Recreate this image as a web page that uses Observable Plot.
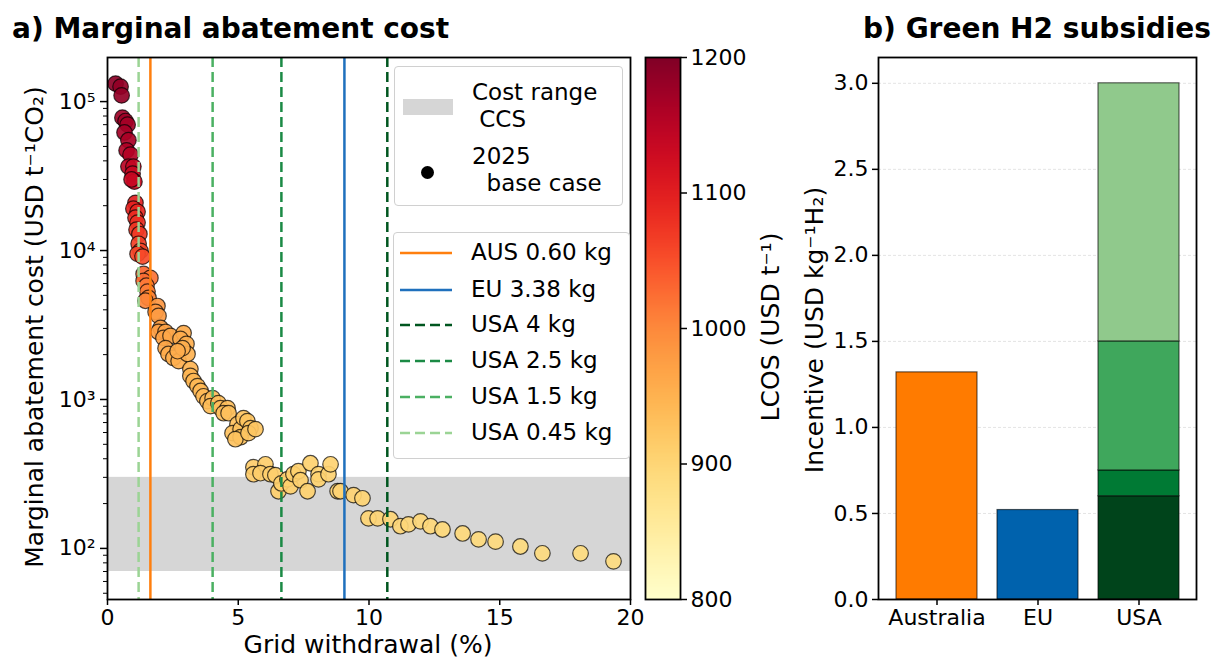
<!DOCTYPE html>
<html><head><meta charset="utf-8">
<script src="https://cdn.jsdelivr.net/npm/d3@7"></script>
<script src="https://cdn.jsdelivr.net/npm/@observablehq/plot@0.6"></script>
<style>
body{margin:0;background:#fff;font-family:"DejaVu Sans",sans-serif;color:#000}
#wrap{position:relative;width:1220px;height:660px;overflow:hidden}
.title{position:absolute;font-weight:bold;font-size:28px;line-height:1;white-space:nowrap}
.lab{position:absolute;font-size:25px;white-space:nowrap;line-height:1}
.lg{position:absolute;border:1px solid #d0d0d0;border-radius:4px;background:rgba(255,255,255,0.85)}
.lt{position:absolute;font-size:23px;line-height:27px;white-space:pre}
</style></head>
<body><div id="wrap"></div>
<script>
// ---------------- data: panel a ----------------
const gridWithdrawal = [
0.31,0.50,0.54,0.57,0.69,0.77,0.65,0.80,0.73,0.88,
0.80,0.99,0.96,1.03,0.92,1.07,0.99,1.15,1.07,1.15,
1.11,1.22,1.19,1.26,1.15,1.34,1.38,1.64,1.38,1.49,
1.53,1.57,1.45,1.91,1.84,1.95,2.03,1.95,2.22,2.14,
2.41,2.91,2.79,3.02,2.22,2.33,2.52,2.72,3.06,2.87,
2.68,3.17,3.17,3.29,3.44,3.56,3.67,3.82,4.02,3.94,
4.24,4.32,4.59,4.44,4.63,4.97,4.78,5.09,5.20,5.35,
5.47,5.09,4.89,5.39,5.66,5.58,5.58,6.04,5.85,6.23,
6.42,6.54,6.65,6.88,7.00,7.11,7.30,7.38,7.65,7.76,
8.07,8.07,8.45,8.53,8.80,8.91,9.41,9.75,9.98,10.33,
10.82,11.20,11.51,11.97,12.35,12.81,13.58,14.19,14.84,15.79,
16.63,18.09,19.35];
const abatementCost = [
132000,126000,110000,78000,74000,70000,62000,55000,47000,44000,
36600,36600,32800,29000,30000,20900,19100,18200,16600,15400,
13800,12900,11100,9950,9500,9100,6960,6550,6250,5800,
5300,4800,4600,4240,3870,3640,3020,2840,2840,2590,
2670,2790,2550,2360,2210,2020,1900,1810,2020,2210,
2110,1600,1440,1330,1230,1140,1050,975,1020,902,
945,875,875,809,809,683,594,632,750,715,
642,558,541,594,632,351,315,367,320,315,
310,242,273,291,261,315,330,287,242,373,
315,291,315,367,242,242,228,217,159,159,
157,141,145,152,141,134,126,115,111,103,
92.7,92.7,81.9];
const lcos = [
1190,1185,1185,1175,1175,1170,1170,1165,1160,1155,
1150,1140,1135,1130,1135,1100,1095,1090,1085,1080,
1075,1070,1065,1060,1060,1055,1030,1020,1025,1015,
1010,1005,1005,985,985,980,975,975,970,970,
965,960,960,955,965,960,955,955,950,955,
958,948,946,945,943,942,940,938,937,936,
935,934,933,933,932,930,930,928,928,927,
926,928,929,926,925,915,915,913,914,912,
912,911,911,910,910,910,909,909,908,908,
907,907,906,906,905,905,904,903,902,901,
900,899,898,897,896,895,894,893,892,891,
890,889,888];
const ccsRange = [70, 300];
const lineLabels = ["AUS 0.60 kg","EU 3.38 kg","USA 4 kg","USA 2.5 kg","USA 1.5 kg","USA 0.45 kg"];
const lineX = [1.64, 9.06, 10.7, 6.65, 4.02, 1.19];
const xTicksA = [0,5,10,15,20];
const yTicksA = [100,1000,10000,100000];
const lcosTicks = [800,900,1000,1100,1200];

// ---------------- data: panel b ----------------
const countries = ["Australia","EU","USA"];
const barCountry = ["Australia","EU","USA","USA","USA","USA"];
const barLow  = [0,0,0,0.6,0.75,1.5];
const barHigh = [1.32,0.52,0.6,0.75,1.5,3.0];
const yTicksB = [0,0.5,1,1.5,2,2.5,3];

// ---------------- styles ----------------
const lineStyle = {
  "AUS 0.60 kg": {color:"#ff7f0e", dash:null},
  "EU 3.38 kg":  {color:"#1f70bd", dash:null},
  "USA 4 kg":    {color:"#00561f", dash:"10,5"},
  "USA 2.5 kg":  {color:"#1b8a45", dash:"10,5"},
  "USA 1.5 kg":  {color:"#4bb062", dash:"10,5"},
  "USA 0.45 kg": {color:"#9bd495", dash:"10,5"}
};
const barColors = ["#ff7b00","#0062ad","#00441b","#007a34","#3fa75c","#90c98c"];
const font = "DejaVu Sans, sans-serif";
const tickFont = "22px";
const wrap = document.getElementById("wrap");
function place(el, left, top){ el.style.position="absolute"; el.style.left=left+"px"; el.style.top=top+"px"; wrap.appendChild(el); return el; }
function div(cls, text, left, top, extra){ const d=document.createElement("div"); d.className=cls; d.textContent=text; d.style.left=left+"px"; d.style.top=top+"px"; if(extra) Object.assign(d.style, extra); wrap.appendChild(d); return d; }
const sup = {"0":"⁰","1":"¹","2":"²","3":"³","4":"⁴","5":"⁵","6":"⁶","7":"⁷","8":"⁸","9":"⁹"};

// ---------------- panel a ----------------
const pts = gridWithdrawal.map((x,i)=>({x, y:abatementCost[i], c:lcos[i]}));
const minorTicks = [];
for (let e=1;e<=5;e++) for (let k=2;k<=9;k++){ const v=k*10**e; if(v>45.4 && v<197700) minorTicks.push(v); }
const colorOpts = {type:"linear", scheme:"YlOrRd", domain:[800,1200]};
const panelA = Plot.plot({
  width:640, height:660,
  marginLeft:107, marginRight:10, marginTop:57, marginBottom:61,
  style:{fontFamily:font, fontSize:tickFont, background:"transparent", color:"#000", overflow:"visible"},
  x:{domain:[0,20]},
  y:{type:"log", domain:[45.4,197700]},
  color:colorOpts,
  marks:[
    Plot.rect([ccsRange], {x1:()=>0, x2:()=>20, y1:d=>d[0], y2:d=>d[1], fill:"#d6d6d6"}),
    Plot.dot(pts, {x:"x", y:"y", fill:"c", r:7.8, stroke:"#000", strokeOpacity:0.7, strokeWidth:1.2, fillOpacity:0.92}),
    ...lineLabels.map((l,i)=>Plot.ruleX([lineX[i]], {stroke:lineStyle[l].color, strokeWidth:2.5, strokeDasharray:lineStyle[l].dash})),
    Plot.axisX({ticks:xTicksA, tickFormat:d=>String(d), tickSize:6, tickPadding:4, strokeWidth:1.5, label:null}),
    Plot.axisY({ticks:yTicksA, tickFormat:d=>"10"+String(Math.round(Math.log10(d))).split("").map(c=>sup[c]).join(""), tickSize:7, tickPadding:5, strokeWidth:1.5, label:null}),
    Plot.axisY({ticks:minorTicks, tickFormat:()=>"", tickSize:4, strokeWidth:1, label:null}),
    Plot.frame({stroke:"#000", strokeWidth:1.8})
  ]
});
place(panelA, 0, 0);

// colorbar
const cbar = Plot.plot({
  width:180, height:660,
  marginLeft:25, marginRight:120, marginTop:57, marginBottom:61,
  style:{fontFamily:font, fontSize:tickFont, background:"transparent", color:"#000", overflow:"visible"},
  x:{domain:[0,1], axis:null},
  y:{domain:[800,1200], axis:null},
  color:colorOpts,
  marks:[
    Plot.raster({x1:0, x2:1, y1:800, y2:1200, width:1, height:200, fill:(x,y)=>y, imageRendering:"auto"}),
    Plot.axisY({anchor:"right", ticks:lcosTicks, tickFormat:d=>String(d), tickSize:6, tickPadding:4, strokeWidth:1.5, label:null}),
    Plot.frame({stroke:"#000", strokeWidth:1.8})
  ]
});
place(cbar, 620, 0);

// ---------------- panel b ----------------
const bars = barCountry.map((c,i)=>({country:c, lo:barLow[i], hi:barHigh[i], fill:barColors[i]}));
const panelB = Plot.plot({
  width:430, height:660,
  marginLeft:88, marginRight:24, marginTop:57, marginBottom:61,
  style:{fontFamily:font, fontSize:tickFont, background:"transparent", color:"#000", overflow:"visible"},
  x:{domain:countries, paddingInner:0.2, paddingOuter:0.16},
  y:{domain:[0,3.15]},
  color:{type:"identity"},
  marks:[
    Plot.gridY(yTicksB.slice(1), {stroke:"#e4e4e4", strokeOpacity:1, strokeWidth:1, strokeDasharray:"3,2"}),
    Plot.barY(bars, {x:"country", y1:"lo", y2:"hi", fill:"fill", stroke:"#000", strokeOpacity:0.6, strokeWidth:1.2, inset:0}),
    Plot.axisX({tickSize:6, tickPadding:4, strokeWidth:1.5, label:null}),
    Plot.axisY({ticks:yTicksB, tickFormat:d3.format(".1f"), tickSize:6, tickPadding:4, strokeWidth:1.5, label:null}),
    Plot.frame({stroke:"#000", strokeWidth:1.8})
  ]
});
place(panelB, 790, 0);

// ---------------- titles & labels ----------------
div("title", "a) Marginal abatement cost", 12, 15);
div("title", "b) Green H2 subsidies", 1037, 15, {transform:"translateX(-50%)"});
div("lab", "Grid withdrawal (%)", 368, 632, {transform:"translateX(-50%)"});
div("lab", "Marginal abatement cost (USD  t⁻¹CO₂)", 34, 327, {transform:"translate(-50%,-50%) rotate(-90deg)"});
div("lab", "LCOS (USD t⁻¹)", 770, 327, {transform:"translate(-50%,-50%) rotate(-90deg)"});
div("lab", "Incentive (USD kg⁻¹H₂)", 814, 330, {transform:"translate(-50%,-50%) rotate(-90deg)"});

// ---------------- legends ----------------
const lg1 = document.createElement("div"); lg1.className="lg"; Object.assign(lg1.style,{left:"394px",top:"66px",width:"227px",height:"138px"}); wrap.appendChild(lg1);
const patch = document.createElement("div"); Object.assign(patch.style,{position:"absolute",left:"403px",top:"99px",width:"50px",height:"16px",background:"#d6d6d6"}); wrap.appendChild(patch);
const dotEl = document.createElement("div"); Object.assign(dotEl.style,{position:"absolute",left:"421px",top:"166px",width:"13px",height:"13px",borderRadius:"50%",background:"#000"}); wrap.appendChild(dotEl);
div("lt", "Cost range\n CCS", 472, 79);
div("lt", "2025\n  base case", 472, 143);

const lg2 = document.createElement("div"); lg2.className="lg"; Object.assign(lg2.style,{left:"393px",top:"232px",width:"235px",height:"225px"}); wrap.appendChild(lg2);
const rowY = [253,290,325,361,397,433];
const ns = "http://www.w3.org/2000/svg";
lineLabels.forEach((l,i)=>{
  const s = document.createElementNS(ns,"svg");
  s.setAttribute("width","56"); s.setAttribute("height","8");
  Object.assign(s.style,{position:"absolute",left:"399px",top:(rowY[i]-4)+"px"});
  const ln = document.createElementNS(ns,"line");
  ln.setAttribute("x1","1"); ln.setAttribute("x2","53"); ln.setAttribute("y1","4"); ln.setAttribute("y2","4");
  ln.setAttribute("stroke", lineStyle[l].color); ln.setAttribute("stroke-width","2.5");
  if (lineStyle[l].dash) ln.setAttribute("stroke-dasharray","10,5");
  s.appendChild(ln); wrap.appendChild(s);
  div("lt", l, 471, rowY[i]-14);
});
</script>
</body></html>
